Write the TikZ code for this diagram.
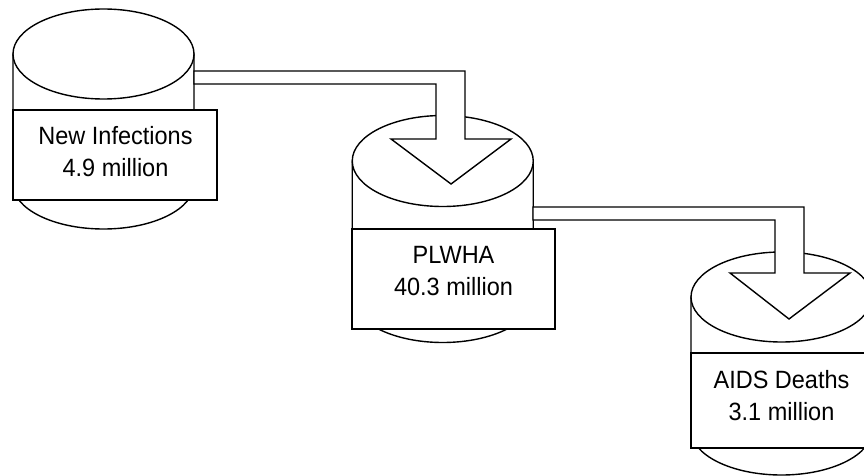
\documentclass[tikz,border=0pt]{standalone}
\usepackage{fontspec}
\setmainfont[FakeStretch=0.94]{Liberation Sans}
\tikzset{
  outl/.style={draw=black, line width=1.4pt, line join=miter},
  labelbox/.style={draw=black, line width=1.4pt, fill=white, rectangle, inner sep=0pt, outer sep=0pt},
  lbl/.style={font=\fontsize{25}{32}\selectfont, align=center, inner sep=0pt},
  blockarrow/.style={draw=black, fill=white, line width=1.4pt, line join=miter}
}
\newcommand\drawcyl[4]{%
  \filldraw[outl, fill=white] (#1-90.5,#2) -- (#1-90.5,#3)
    arc[start angle=180, end angle=360, x radius=90.5pt, y radius=#4pt]
    -- (#1+90.5,#2) -- cycle;
  \filldraw[outl, fill=white] (#1,#2) ellipse[x radius=90.5pt, y radius=#4pt];
}
\begin{document}
\begin{tikzpicture}[x=1pt,y=-1pt]
\useasboundingbox (0,0) rectangle (864,476);
\clip (0,0) rectangle (864,476);

% cylinders
\drawcyl{103.5}{54}{184}{45}
\drawcyl{442.75}{161}{297}{45.5}
\drawcyl{781.5}{297}{430}{45}

% anchor points of the block arrows
\coordinate (a1s) at (194,71);
\coordinate (a2s) at (533,207);

% block arrows
\draw[blockarrow] (a1s) -- ++(271,0) -- ++(0,68) -- ++(46,0) -- ++(-60,45)
  -- ++(-60,-45) -- ++(45,0) -- ++(0,-55) -- ++(-242,0) -- cycle;
\draw[blockarrow] (a2s) -- ++(271,0) -- ++(0,66) -- ++(46,0) -- ++(-61,46)
  -- ++(-59,-46) -- ++(45,0) -- ++(0,-53) -- ++(-242,0) -- cycle;

% label boxes
\node[labelbox, minimum width=204pt, minimum height=90pt] (box1) at (115,155) {};
\node[lbl] (t1) at (115.5,152) {New Infections\\4.9 million};

\node[labelbox, minimum width=203pt, minimum height=100pt] (box2) at (453.5,279) {};
\node[lbl] (t2) at (453.5,271.5) {PLWHA\\40.3 million};

\node[labelbox, minimum width=181pt, minimum height=95pt] (box3) at (781.5,400.5) {};
\node[lbl] (t3) at (781.5,396) {AIDS Deaths\\3.1 million};
\end{tikzpicture}
\end{document}
